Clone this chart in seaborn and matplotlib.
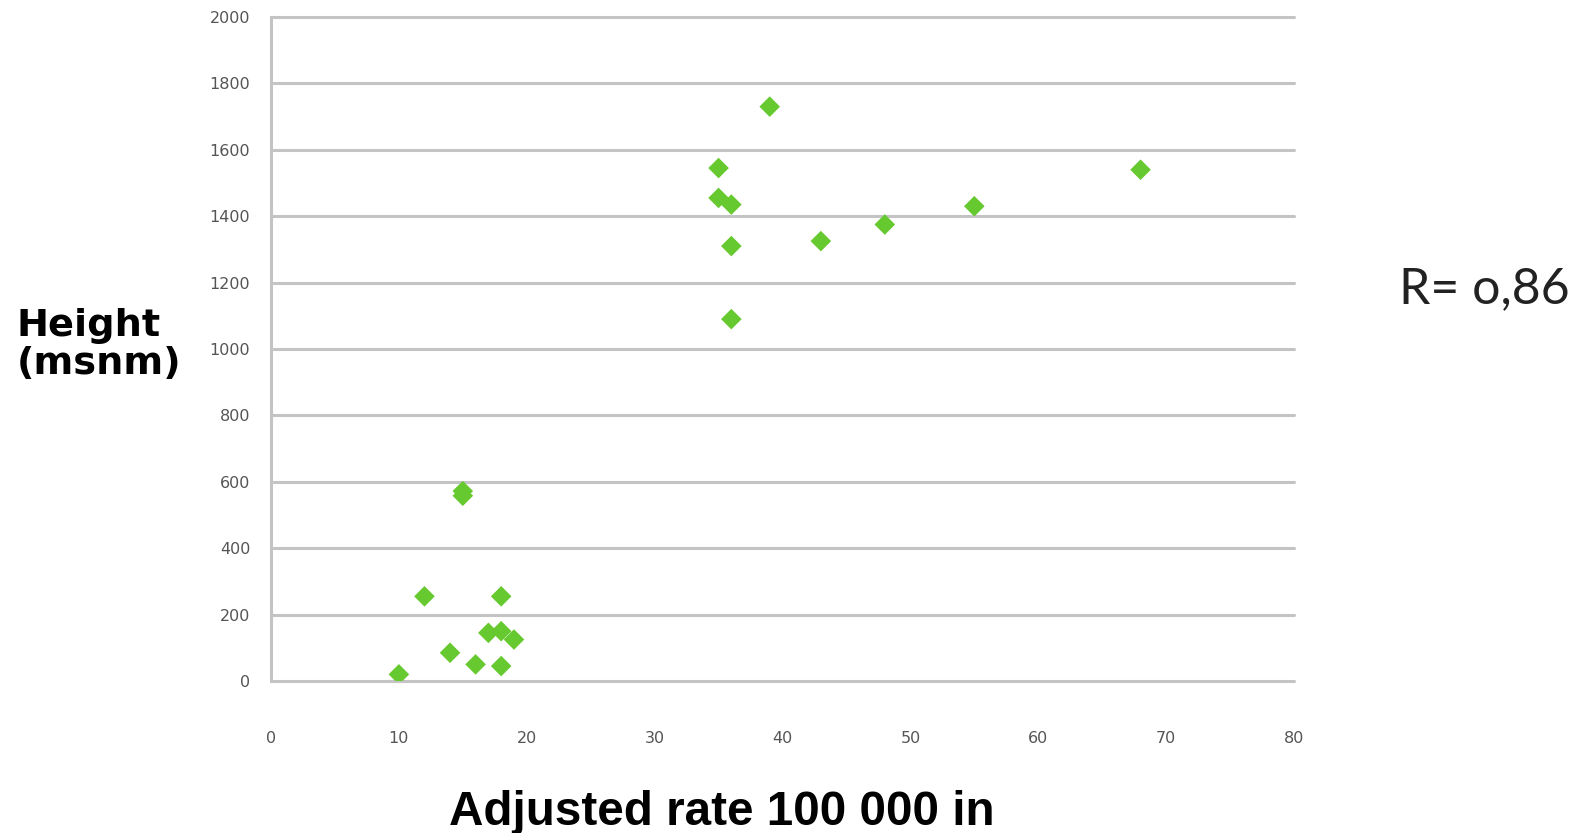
import matplotlib
matplotlib.use("Agg")
import matplotlib.pyplot as plt
import seaborn as sns
import pandas as pd

# incidence rate vs altitude
rate = [10, 12, 14, 15, 15, 16, 17, 18, 18, 18, 19,
        35, 35, 36, 36, 36, 39, 43, 48, 55, 68]
height = [20, 255, 85, 572, 558, 50, 145, 255, 150, 45, 125,
          1545, 1455, 1435, 1310, 1090, 1730, 1325, 1375, 1430, 1540]

x_ticks = [0, 10, 20, 30, 40, 50, 60, 70, 80]
y_ticks = [0, 200, 400, 600, 800, 1000, 1200, 1400, 1600, 1800, 2000]

df = pd.DataFrame({"rate": rate, "height": height})

sns.set_style("white")
plt.rcParams['font.family'] = ['DejaVu Sans']

fig = plt.figure(figsize=(15.87, 8.33), dpi=100)
ax = fig.add_axes([271/1587, 1-681/833, (1294-271)/1587, (681-17)/833])

for yv in y_ticks:
    ax.axhline(yv, color="#c4c4c4", lw=2.2, zorder=0, clip_on=False)

sns.scatterplot(data=df, x="rate", y="height", marker="D", s=110,
                color="#66c92f", edgecolor="none", linewidth=0, ax=ax, zorder=3)

ax.set_xlim(0, 80)
ax.set_ylim(0, 2000)
ax.set_xticks(x_ticks)
ax.set_yticks(y_ticks)
ax.set_xticklabels([str(v) for v in x_ticks])
ax.set_yticklabels([str(v) for v in y_ticks])
ax.tick_params(axis="x", length=0, pad=36, labelsize=11.5, labelcolor="#555555")
ax.tick_params(axis="y", length=0, pad=15, labelsize=11.5, labelcolor="#555555")
ax.set_xlabel("")
ax.set_ylabel("")

for s in ["top", "right", "bottom"]:
    ax.spines[s].set_visible(False)
ax.spines["left"].set_color("#c4c4c4")
ax.spines["left"].set_linewidth(2.2)

fig.text(17/1587, 1-345/833, "Height\n(msnm)", ha="left", va="center",
         fontsize=27.5, fontweight="bold", color="black", linespacing=1.05)
fig.text(722/1587, 1-825/833, "Adjusted rate 100 000 in", ha="center",
         va="baseline", fontsize=34.3, fontweight="bold", color="black",
         family=["Liberation Sans", "DejaVu Sans"])
fig.text(1399/1587, 1-303/833, "R= o,86", ha="left", va="baseline",
         fontsize=36, family=["Lato", "DejaVu Sans"], color="#222222")

fig.savefig("out.png", dpi=100)
